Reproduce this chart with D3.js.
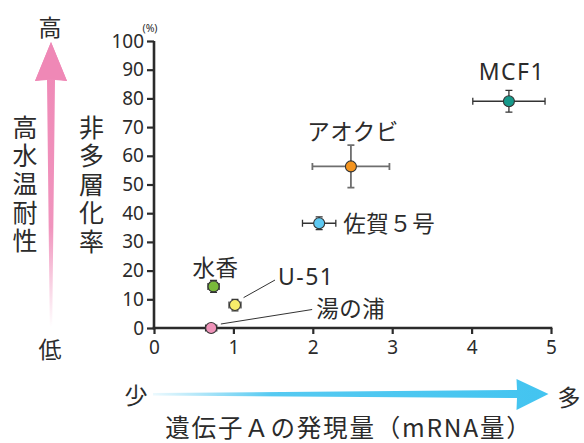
<!DOCTYPE html>
<html>
<head>
<meta charset="utf-8">
<script src="https://cdn.jsdelivr.net/npm/d3@7/dist/d3.min.js"></script>
<style>
  html, body { margin: 0; padding: 0; background: #fff; }
  svg { display: block; font-family: "Noto Sans CJK JP", "Noto Sans", sans-serif; }
</style>
</head>
<body>
<svg id="chart" width="584" height="443"></svg>
<script>
// Cultivars: expression of gene A (mRNA) vs. non-multilayering rate (%)
const varieties = ["MCF1", "アオクビ", "佐賀５号", "水香", "U-51", "湯の浦"];
const expression = [4.47, 2.48, 2.08, 0.75, 1.02, 0.72];
const expressionErr = [0.455, 0.485, 0.21, 0.07, 0.075, 0.07];
const rate = [79, 56.3, 36.5, 14.5, 8, 0];
const rateErr = [3.8, 7.4, 2.2, 2.1, 2.0, 0.4];
const colors = ["#16998a", "#f4941f", "#5ec9f2", "#79b93a", "#f8ee6a", "#ef93b9"];
const xTicks = [0, 1, 2, 3, 4, 5];
const yTicks = [0, 10, 20, 30, 40, 50, 60, 70, 80, 90, 100];

// label placement relative to each point: dx, dy of label centre, anchor, leader line
const labelLayout = [
  { dx: 3,   dy: -30, anchor: "middle" },
  { dx: 2,   dy: -36, anchor: "middle" },
  { dx: 24,  dy: -1,  anchor: "start" },
  { dx: 2,   dy: -20, anchor: "middle" },
  { dx: 43,  dy: -29, anchor: "start", leader: [8.6, -7.4, 40, -25] },
  { dx: 105, dy: -21, anchor: "start", leader: [9.7, -4, 101, -18.5] }
];

const svg = d3.select("#chart");
const ink = "#2b2b2b";

const x = d3.scaleLinear().domain([0, 5]).range([154, 551]);
const y = d3.scaleLinear().domain([0, 100]).range([328, 41]);

// gradients for the two direction arrows
const defs = svg.append("defs");
const gPink = defs.append("linearGradient").attr("id", "pinkGrad")
  .attr("x1", 0).attr("y1", 1).attr("x2", 0).attr("y2", 0);
gPink.append("stop").attr("offset", "0").attr("stop-color", "#ef88b6").attr("stop-opacity", 0);
gPink.append("stop").attr("offset", "0.35").attr("stop-color", "#ef88b6").attr("stop-opacity", 0.9);
gPink.append("stop").attr("offset", "1").attr("stop-color", "#ef88b6").attr("stop-opacity", 1);
const gBlue = defs.append("linearGradient").attr("id", "blueGrad")
  .attr("x1", 0).attr("y1", 0).attr("x2", 1).attr("y2", 0);
gBlue.append("stop").attr("offset", "0").attr("stop-color", "#43c4f0").attr("stop-opacity", 0.1);
gBlue.append("stop").attr("offset", "0.3").attr("stop-color", "#43c4f0").attr("stop-opacity", 0.9);
gBlue.append("stop").attr("offset", "1").attr("stop-color", "#43c4f0").attr("stop-opacity", 1);

// vertical arrow: high-temperature tolerance
svg.append("path")
  .attr("d", "M49.8,327 L52.2,327 L55,80 L67,81 L51,42 L35,81 L47,80 Z")
  .attr("fill", "url(#pinkGrad)");
svg.append("path")
  .attr("d", "M51,42 L67,81 L55,79 L47,79 L35,81 Z")
  .attr("fill", "#ef88b6");

// horizontal arrow: expression level
svg.append("path")
  .attr("d", "M153,393 L517,390 L516.5,379 L548.5,394 L516.5,410 L517,398 L153,395.5 Z")
  .attr("fill", "url(#blueGrad)");

const textStyle = sel => sel.attr("fill", ink);

svg.append("text").attr("x", 50).attr("y", 26).attr("text-anchor", "middle")
  .attr("dominant-baseline", "central").attr("font-size", 23).text("高").call(textStyle);
svg.append("text").attr("x", 50).attr("y", 348).attr("text-anchor", "middle")
  .attr("dominant-baseline", "central").attr("font-size", 23).text("低").call(textStyle);
svg.append("text").attr("x", 136).attr("y", 394).attr("text-anchor", "middle")
  .attr("dominant-baseline", "central").attr("font-size", 23).text("少").call(textStyle);
svg.append("text").attr("x", 569).attr("y", 396).attr("text-anchor", "middle")
  .attr("dominant-baseline", "central").attr("font-size", 23).text("多").call(textStyle);

// vertical axis titles, set in vertical writing mode
function verticalText(str, cx, top, step) {
  const fs = 25;
  svg.append("text")
    .attr("x", cx).attr("y", top - fs / 2)
    .style("writing-mode", "vertical-rl")
    .attr("letter-spacing", step - fs)
    .attr("font-size", fs).attr("fill", ink).text(str);
}
verticalText("高水温耐性", 25, 127.5, 28.2);
verticalText("非多層化率", 91.5, 127.5, 28.4);

// x axis title
svg.append("text").attr("x", 349).attr("y", 426.5).attr("text-anchor", "middle")
  .attr("dominant-baseline", "central").attr("font-size", 24.5).attr("letter-spacing", 1.8)
  .text("遺伝子Ａの発現量（mRNA量）").call(textStyle);

// axes
const xAxis = svg.append("g").attr("transform", `translate(0,${y(0)})`)
  .call(d3.axisBottom(x).tickValues(xTicks).tickFormat(d3.format("d"))
    .tickSize(6).tickSizeOuter(0).tickPadding(7));
const yAxis = svg.append("g").attr("transform", `translate(${x(0)},0)`)
  .call(d3.axisLeft(y).tickValues(yTicks).tickFormat(d3.format("d"))
    .tickSize(7).tickSizeOuter(0).tickPadding(3));
[xAxis, yAxis].forEach(a => {
  a.select(".domain").attr("stroke", ink).attr("stroke-width", 2.6);
  a.selectAll(".tick line").attr("stroke", ink).attr("stroke-width", 2.2);
  a.selectAll(".tick text").attr("fill", ink).attr("font-size", 19)
    .attr("font-family", "'Noto Sans', sans-serif");
});
xAxis.select(".domain").attr("d", `M${x(0) - 1.3},0H${x(5) + 1.3}`);
yAxis.select(".domain").attr("d", `M0,${y(100)}V${y(0) + 1.3}`);

svg.append("text").attr("x", 150).attr("y", 28).attr("text-anchor", "middle")
  .attr("dominant-baseline", "central").attr("font-size", 10.5)
  .attr("font-family", "'Noto Sans', sans-serif").text("(%)").call(textStyle);

// error bars and points
const data = varieties.map((name, i) => ({
  name, x: expression[i], xe: expressionErr[i], y: rate[i], ye: rateErr[i],
  color: colors[i], layout: labelLayout[i]
}));

const cap = 3.5;
const pts = svg.append("g").selectAll("g").data(data).join("g");
pts.each(function (d) {
  const g = d3.select(this);
  const cx = x(d.x), cy = y(d.y);
  const stroke = d.name === "アオクビ" ? "#6e6e6e" : "#333";
  const sw = d.name === "アオクビ" ? 1.8 : 1.3;
  const x0 = x(d.x - d.xe), x1 = x(d.x + d.xe);
  const y0 = y(d.y - d.ye), y1 = y(d.y + d.ye);
  const path = `M${x0},${cy}H${x1}M${x0},${cy - cap}V${cy + cap}M${x1},${cy - cap}V${cy + cap}` +
    `M${cx},${y0}V${y1}M${cx - cap},${y0}H${cx + cap}M${cx - cap},${y1}H${cx + cap}`;
  g.append("path").attr("d", path).attr("stroke", stroke).attr("stroke-width", sw).attr("fill", "none");
  g.append("circle").attr("cx", cx).attr("cy", cy).attr("r", 5.5)
    .attr("fill", d.color).attr("stroke", "#333").attr("stroke-width", 1.1);

  const L = d.layout;
  if (L.leader) {
    g.append("line").attr("x1", cx + L.leader[0]).attr("y1", cy + L.leader[1])
      .attr("x2", cx + L.leader[2]).attr("y2", cy + L.leader[3])
      .attr("stroke", "#333").attr("stroke-width", 1);
  }
  const latin = /^[A-Z0-9-]+$/.test(d.name);
  g.append("text").attr("x", cx + L.dx).attr("y", cy + L.dy)
    .attr("text-anchor", L.anchor).attr("dominant-baseline", "central")
    .attr("font-size", latin ? 23 : 22.5)
    .attr("font-family", latin ? "'Noto Sans', sans-serif" : null)
    .attr("letter-spacing", latin ? 1.5 : 0.5)
    .attr("fill", ink).text(d.name);
});
</script>
</body>
</html>
